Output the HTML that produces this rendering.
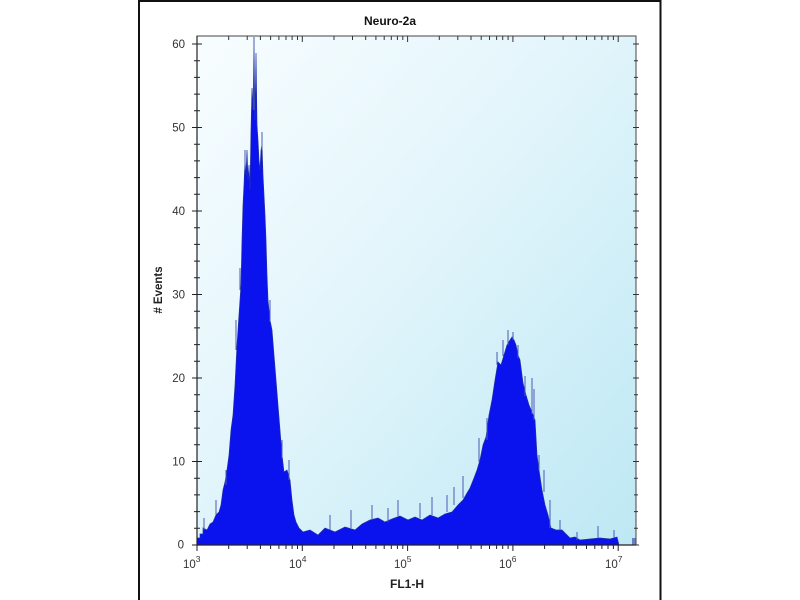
<!DOCTYPE html>
<html>
<head>
<meta charset="utf-8">
<style>
  html,body{margin:0;padding:0;background:#fff;}
  body{width:800px;height:600px;overflow:hidden;position:relative;font-family:"Liberation Sans",Arial,sans-serif;}
  svg{position:absolute;left:0;top:0;}
</style>
</head>
<body>
<svg width="800" height="600" viewBox="0 0 800 600" xmlns="http://www.w3.org/2000/svg">
  <defs>
    <linearGradient id="bg" x1="0" y1="0" x2="1" y2="1">
      <stop offset="0" stop-color="#f8fdff"/>
      <stop offset="0.45" stop-color="#e2f5fb"/>
      <stop offset="1" stop-color="#bde8f4"/>
    </linearGradient>
  </defs>

  <!-- outer frame -->
  <rect x="0" y="0" width="800" height="600" fill="#ffffff"/>
  <rect x="139" y="1" width="521.5" height="610" fill="#ffffff" stroke="#111" stroke-width="2"/>

  <!-- plot background -->
  <rect x="197" y="36" width="439" height="509" fill="url(#bg)"/>

  <!-- histogram -->
  <path fill="#0a12ee" stroke="#2232a8" stroke-width="0.7" stroke-linejoin="miter" d="
    M197,545 L197,538 L200,538 L200,534 L203,534 L203,528 L207,530 L210,524 L213,522 L216,515 L219,512
    L221,505 L223,490 L225,482 L227,470 L229,455 L231,430 L233,415 L235,385 L237,345 L239,315 L241,285
    L242,240 L243,205 L244,185 L245,160 L246,175 L247,150 L248,180 L249,165 L250,190 L251,130 L252,88
    L253,110 L254,37 L255,120 L256,53 L257,125 L258,140 L259,160 L260,170 L261,150 L262,145 L263,175
    L264,195 L265,215 L266,240 L267,275 L268,300 L270,320 L272,330 L274,355 L276,380 L278,405 L280,430
    L282,455 L284,472 L287,470 L290,480 L292,500 L294,515 L296,522 L299,528 L303,532 L310,530 L318,535
    L325,528 L335,532 L345,527 L355,530 L362,524 L370,520 L378,518 L385,522 L392,519 L400,516 L408,520
    L415,517 L422,520 L430,515 L438,518 L445,514 L452,512 L458,505 L463,500 L467,493 L470,488 L474,478
    L477,470 L480,460 L483,445 L486,437 L489,415 L492,400 L495,380 L498,362 L501,365 L504,355 L507,345
    L510,340 L512,337 L514,340 L516,345 L518,355 L520,360 L523,383 L526,395 L529,405 L532,412 L535,420
    L537,455 L539,470 L542,490 L545,505 L548,515 L551,528 L556,530 L562,530 L566,534 L570,538 L575,537
    L580,540 L590,539 L600,538 L610,539 L617,537 L619,545 Z"/>
  <rect x="632" y="538" width="4" height="7" fill="#6b7fc8"/>

  <!-- a few spikes -->
  <g stroke="#4a5ab8" stroke-width="1">
    <path d="M254,37 V110 M216,500 V515 M204,518 V530 M226,470 V485 M236,320 V350 M240,268 V290
             M245,150 V170 M262,132 V150 M270,300 V322 M282,440 V458 M289,460 V480
             M330,515 V530 M351,510 V528 M372,505 V520 M388,508 V522 M398,500 V516 M420,503 V518
             M432,497 V515 M447,495 V512 M454,487 V505 M463,476 V498 M479,438 V462 M487,418 V440
             M497,352 V365 M503,340 V356 M508,330 V345 M513,332 V340 M518,345 V358 M525,376 V396
             M532,378 V414 M534,389 V420 M539,455 V470 M544,470 V492 M550,500 V528 M560,520 V530
             M577,532 V540 M598,526 V538 M614,530 V538"/>
  </g>

  <!-- plot frame -->
  <rect x="197" y="36" width="439" height="509" fill="none" stroke="#444" stroke-width="1"/>
  <line x1="197" y1="36" x2="197" y2="545" stroke="#222" stroke-width="1.2"/>
  <line x1="197" y1="545" x2="636" y2="545" stroke="#222" stroke-width="1.2"/>

  <!-- y ticks left -->
  <g stroke="#222" stroke-width="1">
    <path d="M192,545H202 M192,461.5H202 M192,378H202 M192,294.5H202 M192,211H202 M192,127.5H202 M192,44H202
             M194,528.3H200 M194,511.6H200 M194,494.9H200 M194,478.2H200
             M194,444.8H200 M194,428.1H200 M194,411.4H200 M194,394.7H200
             M194,361.3H200 M194,344.6H200 M194,327.9H200 M194,311.2H200
             M194,277.8H200 M194,261.1H200 M194,244.4H200 M194,227.7H200
             M194,194.3H200 M194,177.6H200 M194,160.9H200 M194,144.2H200
             M194,110.8H200 M194,94.1H200 M194,77.4H200 M194,60.7H200"/>
  </g>
  <!-- y ticks right -->
  <g stroke="#333" stroke-width="1">
    <path d="M633,545H639 M633,461.5H639 M633,378H639 M633,294.5H639 M633,211H639 M633,127.5H639 M633,44H639
             M634,528.3H638 M634,511.6H638 M634,494.9H638 M634,478.2H638
             M634,444.8H638 M634,428.1H638 M634,411.4H638 M634,394.7H638
             M634,361.3H638 M634,344.6H638 M634,327.9H638 M634,311.2H638
             M634,277.8H638 M634,261.1H638 M634,244.4H638 M634,227.7H638
             M634,194.3H638 M634,177.6H638 M634,160.9H638 M634,144.2H638
             M634,110.8H638 M634,94.1H638 M634,77.4H638 M634,60.7H638"/>
  </g>

  <!-- x ticks bottom -->
  <g stroke="#222" stroke-width="1">
    <path d="M197,545V551 M302.3,545V551 M407.6,545V551 M512.9,545V551 M618.2,545V551
      M228.7,545V549 M247.2,545V549 M260.4,545V549 M270.6,545V549 M278.9,545V549 M286,545V549 M292.1,545V549 M297.5,545V549
      M334,545V549 M352.5,545V549 M365.7,545V549 M375.9,545V549 M384.2,545V549 M391.3,545V549 M397.4,545V549 M402.8,545V549
      M439.3,545V549 M457.8,545V549 M471,545V549 M481.2,545V549 M489.5,545V549 M496.6,545V549 M502.7,545V549 M508.1,545V549
      M544.6,545V549 M563.1,545V549 M576.3,545V549 M586.5,545V549 M594.8,545V549 M601.9,545V549 M608,545V549 M613.4,545V549"/>
  </g>
  <!-- x ticks top -->
  <g stroke="#333" stroke-width="1">
    <path d="M302.3,36V42 M407.6,36V42 M512.9,36V42 M618.2,36V42
      M228.7,36V40 M247.2,36V40 M260.4,36V40 M270.6,36V40 M278.9,36V40 M286,36V40 M292.1,36V40 M297.5,36V40
      M334,36V40 M352.5,36V40 M365.7,36V40 M375.9,36V40 M384.2,36V40 M391.3,36V40 M397.4,36V40 M402.8,36V40
      M439.3,36V40 M457.8,36V40 M471,36V40 M481.2,36V40 M489.5,36V40 M496.6,36V40 M502.7,36V40 M508.1,36V40
      M544.6,36V40 M563.1,36V40 M576.3,36V40 M586.5,36V40 M594.8,36V40 M601.9,36V40 M608,36V40 M613.4,36V40"/>
  </g>

  <!-- title -->
  <text x="390" y="25" text-anchor="middle" font-family="Liberation Sans, Arial, sans-serif" font-size="12" font-weight="bold" fill="#111">Neuro-2a</text>

  <!-- y tick labels -->
  <g font-family="Liberation Sans, Arial, sans-serif" font-size="11.5" fill="#333" text-anchor="end">
    <text x="184" y="548.5">0</text>
    <text x="185" y="465.5">10</text>
    <text x="185" y="382">20</text>
    <text x="185" y="298.5">30</text>
    <text x="185" y="215">40</text>
    <text x="185" y="131.5">50</text>
    <text x="185" y="48">60</text>
  </g>

  <!-- x tick labels -->
  <g font-family="Liberation Sans, Arial, sans-serif" font-size="11.5" fill="#333">
    <text x="183" y="568">10<tspan font-size="8.5" dy="-6">3</tspan></text>
    <text x="289" y="568">10<tspan font-size="8.5" dy="-6">4</tspan></text>
    <text x="394" y="568">10<tspan font-size="8.5" dy="-6">5</tspan></text>
    <text x="499" y="568">10<tspan font-size="8.5" dy="-6">6</tspan></text>
    <text x="605" y="568">10<tspan font-size="8.5" dy="-6">7</tspan></text>
  </g>

  <!-- axis titles -->
  <text x="407" y="588" text-anchor="middle" font-family="Liberation Sans, Arial, sans-serif" font-size="12" font-weight="bold" fill="#222">FL1-H</text>
  <text transform="translate(162,290) rotate(-90)" text-anchor="middle" font-family="Liberation Sans, Arial, sans-serif" font-size="11.5" font-weight="bold" fill="#222"># Events</text>
</svg>
</body>
</html>
